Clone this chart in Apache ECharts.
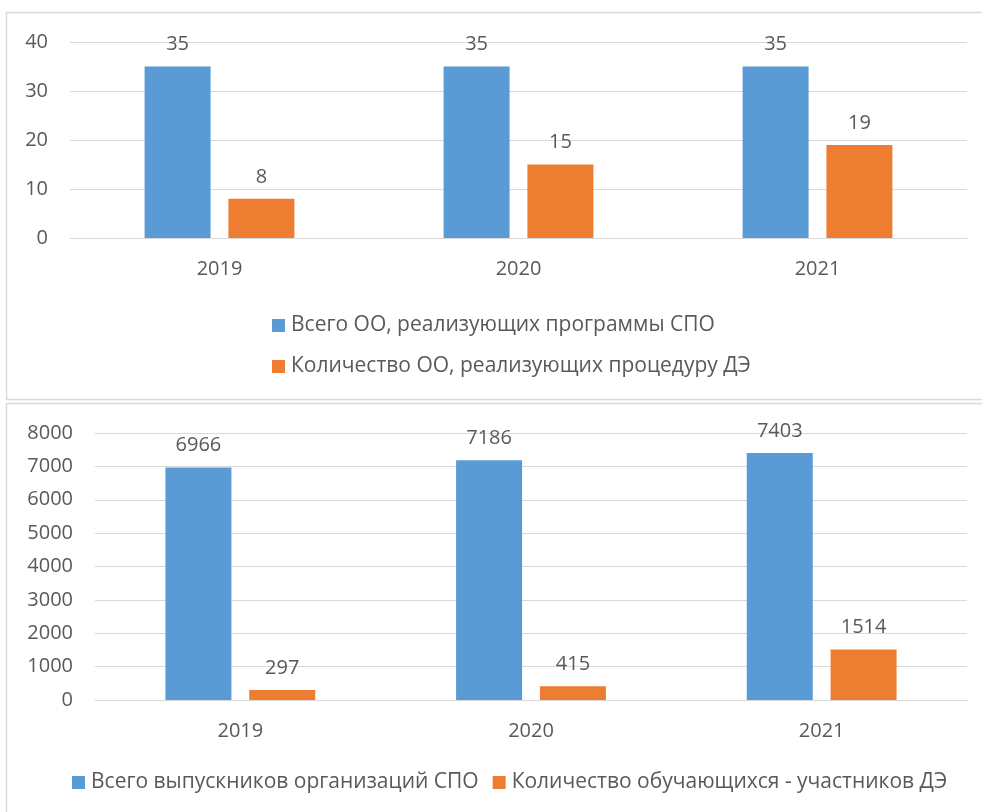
<!DOCTYPE html>
<html>
<head>
<meta charset="utf-8">
<script src="https://cdn.jsdelivr.net/npm/echarts@6/dist/echarts.min.js"></script>
<style>
  html, body { margin: 0; padding: 0; background: #fff; }
  #chart { width: 982px; height: 812px; }
</style>
</head>
<body>
<div id="chart"></div>
<script>
// данные
var years = ['2019', '2020', '2021']
var orgTotal = [35, 35, 35]
var orgDE = [8, 15, 19]
var gradTotal = [6966, 7186, 7403]
var gradDE = [297, 415, 1514]

var topTicks = [0, 40, 10]
var bottomTicks = [0, 8000, 1000]

var names = [
  'Всего ОО, реализующих программы СПО',
  'Количество ОО, реализующих процедуру ДЭ',
  'Всего выпускников организаций СПО',
  'Количество обучающихся - участников ДЭ'
]

var blue = '#5B9BD5'
var orange = '#ED7D31'
var textColor = '#595959'
var gridColor = '#D9D9D9'
var font = 'Open Sans'

function yAxis(idx, ticks) {
  return {
    gridIndex: idx,
    min: ticks[0],
    max: ticks[1],
    interval: ticks[2],
    axisLine: { show: false },
    axisTick: { show: false },
    axisLabel: {
      color: textColor, fontSize: 20, fontFamily: font, margin: 22,
      formatter: function (v) { return String(v) }
    },
    splitLine: { lineStyle: { color: gridColor, width: 1 } }
  }
}

function xAxis(idx) {
  return {
    gridIndex: idx,
    type: 'category',
    data: years,
    axisLine: { lineStyle: { color: gridColor } },
    axisTick: { show: false },
    axisLabel: { color: textColor, fontSize: 20, fontFamily: font, margin: 21 }
  }
}

function bar(name, data, color, idx) {
  return {
    name: name,
    type: 'bar',
    xAxisIndex: idx,
    yAxisIndex: idx,
    data: data,
    barWidth: 66,
    barGap: '27%',
    itemStyle: { color: color },
    label: {
      show: true,
      position: 'top',
      distance: 12,
      color: textColor,
      fontSize: 20,
      fontFamily: font
    }
  }
}

var chart = echarts.init(document.getElementById('chart'))
chart.setOption({
  animation: false,
  textStyle: { fontFamily: font },
  graphic: [
    {
      type: 'rect',
      shape: { x: 6.5, y: 12.5, width: 990, height: 387 },
      style: { fill: null, stroke: gridColor, lineWidth: 1.5 },
      silent: true
    },
    {
      type: 'rect',
      shape: { x: 6.5, y: 403.5, width: 990, height: 420 },
      style: { fill: null, stroke: gridColor, lineWidth: 1.5 },
      silent: true
    }
  ],
  grid: [
    { left: 70, right: 15, top: 42, height: 196 },
    { left: 95, right: 15, top: 433, height: 267 }
  ],
  legend: [
    {
      data: [names[0], names[1]],
      orient: 'vertical',
      left: 267,
      top: 310,
      itemWidth: 13,
      itemHeight: 13,
      itemGap: 20,
      icon: 'rect',
      textStyle: { color: textColor, fontSize: 21, fontFamily: font, padding: [0, 0, 0, 1] }
    },
    {
      data: [names[2], names[3]],
      orient: 'horizontal',
      left: 67,
      top: 767,
      itemWidth: 13,
      itemHeight: 13,
      itemGap: 14,
      icon: 'rect',
      textStyle: { color: textColor, fontSize: 21, fontFamily: font, padding: [0, 0, 0, 1] }
    }
  ],
  xAxis: [xAxis(0), xAxis(1)],
  yAxis: [yAxis(0, topTicks), yAxis(1, bottomTicks)],
  series: [
    bar(names[0], orgTotal, blue, 0),
    bar(names[1], orgDE, orange, 0),
    bar(names[2], gradTotal, blue, 1),
    bar(names[3], gradDE, orange, 1)
  ]
})
</script>
</body>
</html>
